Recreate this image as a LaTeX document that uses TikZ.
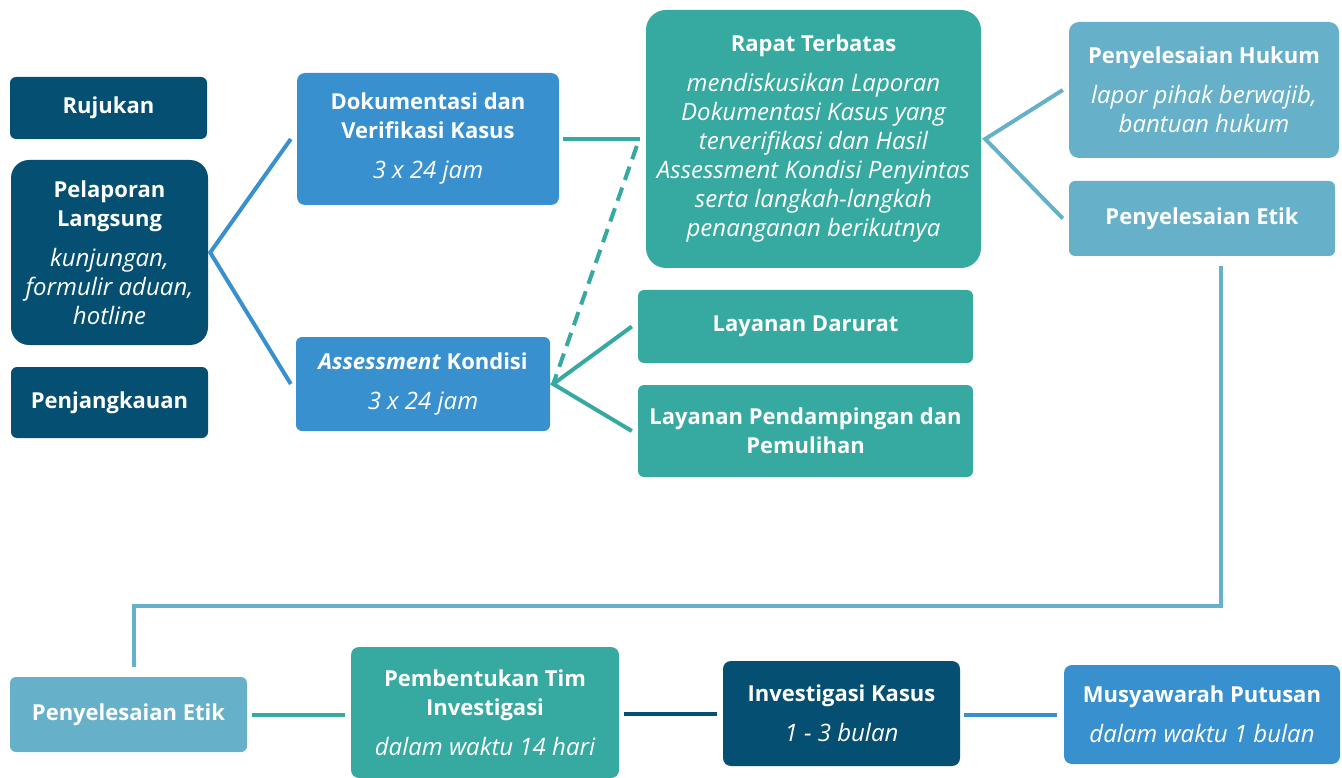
\documentclass[tikz,border=0pt]{standalone}
\usepackage{fontspec}
\setmainfont{Open Sans}
\usetikzlibrary{calc}
\definecolor{navy}{HTML}{044F72}
\definecolor{azure}{HTML}{3890CF}
\definecolor{teal}{HTML}{36A9A0}
\definecolor{sky}{HTML}{66B0CA}
\tikzset{
  box/.style={rounded corners=6pt, text=white, align=center, inner sep=0pt,
    font=\fontsize{22}{29}\selectfont},
  link/.style={line width=4pt},
}
\newcommand{\ttl}[1]{\textbf{#1}}
\newcommand{\sub}[1]{{\fontsize{24}{29}\selectfont\itshape #1}}
\begin{document}
\begin{tikzpicture}[x=1pt,y=-1pt]
    \useasboundingbox (0,0) rectangle (1342,778);
    % kiri: jalur pelaporan
    \node[box, fill=navy, minimum width=197pt, minimum height=62pt] (ruj) at (108.5,108) {\ttl{Rujukan}};
    \node[box, fill=navy, rounded corners=18pt, minimum width=197pt, minimum height=185pt] (pel) at (109.5,252.5)
        {\ttl{Pelaporan}\\\ttl{Langsung}\\[11pt]\sub{kunjungan,}\\\sub{formulir aduan,}\\\sub{hotline}};
    \node[box, fill=navy, minimum width=197pt, minimum height=71pt] (pjk) at (109.5,402.5) {\ttl{Penjangkauan}};
    % tengah
    \node[box, fill=azure, rounded corners=8pt, minimum width=262pt, minimum height=132pt] (dok) at (428,139)
        {\ttl{Dokumentasi dan}\\\ttl{Verifikasi Kasus}\\[11pt]\sub{3 x 24 jam}};
    \node[box, fill=azure, minimum width=254pt, minimum height=94pt] (ass) at (423,384)
        {\textbf{\textit{Assessment} Kondisi}\\[11pt]\sub{3 x 24 jam}};
    \node[box, fill=teal, rounded corners=20pt, minimum width=335pt, minimum height=258pt] (rap) at (813.5,139)
        {\ttl{Rapat Terbatas}\\[11pt]\sub{mendiskusikan Laporan}\\\sub{Dokumentasi Kasus yang}\\\sub{terverifikasi dan Hasil}\\
         \sub{Assessment Kondisi Penyintas}\\\sub{serta langkah-langkah}\\\sub{penanganan berikutnya}};
    \node[box, fill=teal, minimum width=335pt, minimum height=73pt] (dar) at (805.5,326.5) {\ttl{Layanan Darurat}};
    \node[box, fill=teal, minimum width=335pt, minimum height=92pt] (pen) at (805.5,431)
        {\ttl{Layanan Pendampingan dan}\\\ttl{Pemulihan}};
    % kanan
    \node[box, fill=sky, rounded corners=10pt, minimum width=270pt, minimum height=136pt] (huk) at (1204,90)
        {\ttl{Penyelesaian Hukum}\\[11pt]\sub{lapor pihak berwajib,}\\\sub{bantuan hukum}};
    \node[box, fill=sky, minimum width=266pt, minimum height=75pt] (etk) at (1202,218.5) {\ttl{Penyelesaian Etik}};
    % bawah
    \node[box, fill=sky, minimum width=237pt, minimum height=75pt] (etb) at (128.5,714.5) {\ttl{Penyelesaian Etik}};
    \node[box, fill=teal, rounded corners=8pt, minimum width=268pt, minimum height=131pt] (pem) at (485,712.5)
        {\ttl{Pembentukan Tim}\\\ttl{Investigasi}\\[11pt]\sub{dalam waktu 14 hari}};
    \node[box, fill=navy, rounded corners=8pt, minimum width=237pt, minimum height=105pt] (inv) at (841.5,713.5)
        {\ttl{Investigasi Kasus}\\[11pt]\sub{1 - 3 bulan}};
    \node[box, fill=azure, rounded corners=8pt, minimum width=276pt, minimum height=99pt] (mus) at (1202,714.5)
        {\ttl{Musyawarah Putusan}\\[11pt]\sub{dalam waktu 1 bulan}};
    % penghubung
    \draw[link, azure] ([xshift=-6pt]dok.west) -- ([xshift=2pt]pel.east) -- ([xshift=-5pt]ass.west);
    \draw[link, teal] ([xshift=4pt]dok.east |- rap.west) -- ([xshift=-6pt]rap.west);
    \draw[link, teal, dashed, dash pattern=on 14pt off 8pt] ([shift={(-9pt,-7pt)}]rap.west) -- ([xshift=3pt]ass.east);
    \draw[link, teal] ([xshift=-6pt]dar.west) -- ([xshift=3pt]ass.east) -- ([xshift=-6pt]pen.west);
    \draw[link, sky] ([xshift=-6pt]huk.west) -- ([xshift=4pt]rap.east) -- ([xshift=-6pt]etk.west);
    \draw[link, sky] ([shift={(19pt,-10pt)}]etk.south) -- ++(0,340) -| ([shift={(5pt,10pt)}]etb.north);
    \draw[link, teal] ([xshift=5pt]etb.east) -- ([xshift=-6pt]pem.west |- etb.east);
    \draw[link, navy] ([xshift=5pt]pem.east |- inv.west) -- ([xshift=-6pt]inv.west);
    \draw[link, azure] ([xshift=4pt]inv.east |- mus.west) -- ([xshift=-7pt]mus.west);
\end{tikzpicture}
\end{document}
